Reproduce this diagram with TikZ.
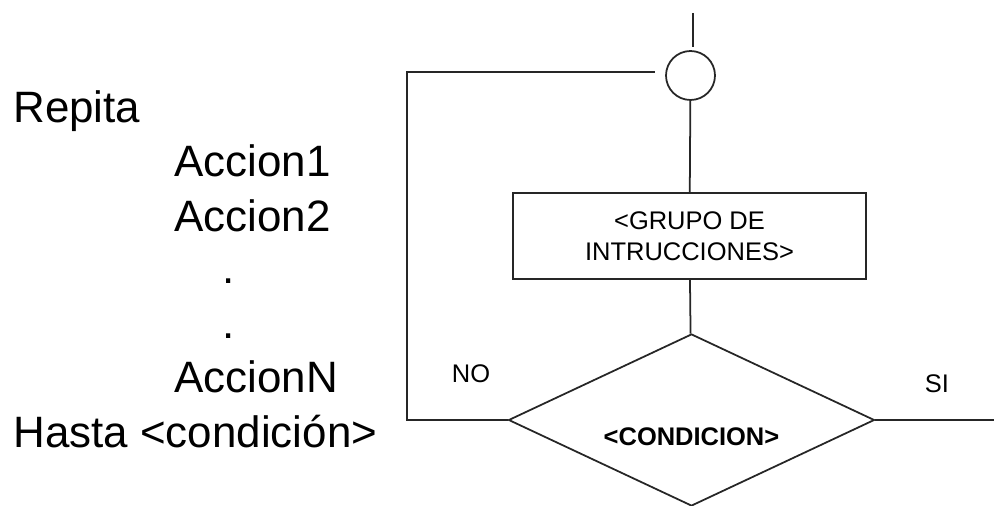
\documentclass[tikz,border=0pt]{standalone}
\usepackage{fontspec}
\setmainfont{Liberation Sans}
\usetikzlibrary{shapes.geometric}
\begin{document}
\begin{tikzpicture}[
    x=0.02cm, y=-0.02cm,
    line/.style={draw=black!85,line width=1pt},
    proc/.style={rectangle,draw=black!85,line width=1pt,minimum width=7.06cm,minimum height=1.72cm,inner sep=0pt,align=center,font=\fontsize{14.5}{17.4}\selectfont},
    dec/.style={diamond,draw=black!85,line width=1pt,minimum width=7.32cm,minimum height=3.44cm,inner sep=0pt},
    conn/.style={circle,draw=black!85,line width=1pt,minimum size=0.98cm,inner sep=0pt},
    lbl/.style={inner sep=0pt,anchor=base,font=\fontsize{14.5}{17.4}\selectfont},
    code/.style={inner sep=0pt,anchor=base west,font=\fontsize{25}{30}\selectfont}
]
    \useasboundingbox (0,0) rectangle (994,506);

    % pseudocode
    \node[code] (rep) at (13,123) {Repita};
    \node[code] (acc1) at (174,177) {Accion1};
    \node[code] (acc2) at (174,232) {Accion2};
    \node[code,anchor=base] (dot1) at (229,284) {.};
    \node[code,anchor=base] (dot2) at (229,339) {.};
    \node[code] (accn) at (174,393) {AccionN};
    \node[code] (hasta) at (13,447) {Hasta <condición>};

    % diagram
    \node[conn] (circ) at (690.5,75.5) {};
    \node[proc] (grupo) at (689.5,236) {<GRUPO DE\\INTRUCCIONES>};
    \node[dec] (cond) at (691.5,420) {};
    \node[lbl,font=\fontsize{14.5}{17.4}\selectfont\bfseries] (condtxt) at (691.5,445) {<CONDICION>};
    \node[lbl] (no) at (471,383) {NO};
    \node[lbl] (si) at (937,393) {SI};

    \coordinate (in1) at (693,13);
    \coordinate (in2) at (693,47);
    \coordinate (loopc) at (407,72);
    \coordinate (loopend) at (655,72);
    \coordinate (out) at (994,420);

    \draw[line] (in1) -- (in2);
    \draw[line] (circ) -- (grupo);
    \draw[line] (grupo) -- (cond);
    \draw[line] (cond.west) -| (loopc) -- (loopend);
    \draw[line] (cond.east) -- (out);
\end{tikzpicture}
\end{document}
